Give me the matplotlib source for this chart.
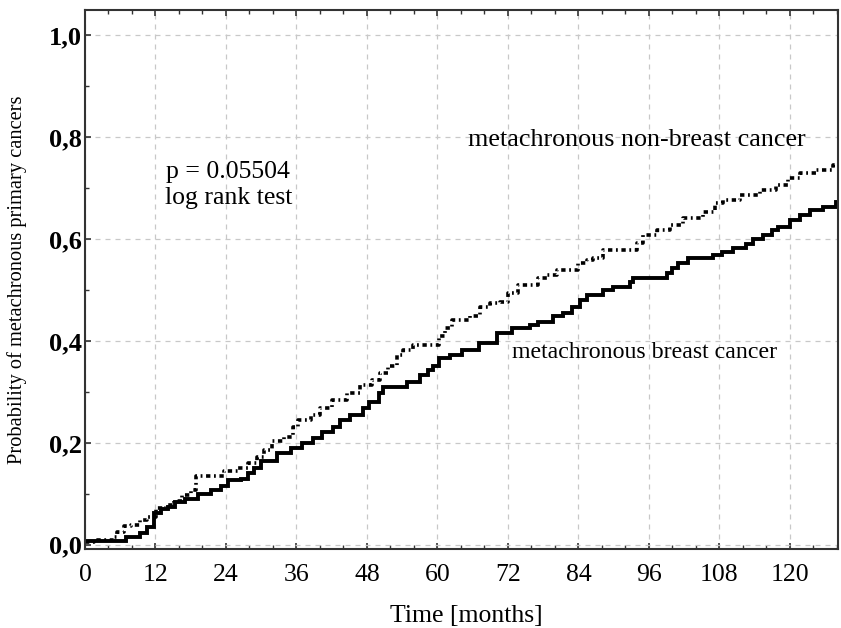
import numpy as np
import matplotlib
matplotlib.use('Agg')
import matplotlib.pyplot as plt
from matplotlib.ticker import MultipleLocator, FuncFormatter

# step times (months) and cumulative probability after each step
breast_t = [0, 7.0, 9.3, 10.6, 11.8, 13.0, 14.2, 15.3, 17.0, 19.2, 21.5, 23.2, 24.3,
            26.6, 27.7, 28.8, 29.9, 32.7, 35.0, 37.0, 38.9, 40.4, 42.3, 43.5, 45.2,
            47.4, 48.3, 50.0, 50.8, 54.8, 57.0, 58.4, 59.3, 60.2, 62.2, 64.2, 67.0,
            70.1, 72.7, 75.8, 77.2, 79.7, 81.4, 82.9, 84.3, 85.4, 88.2, 89.9, 92.8,
            93.3, 99.0, 99.9, 101.0, 102.7, 106.9, 108.4, 110.3, 112.6, 113.8, 115.4,
            116.9, 118.0, 120.0, 121.7, 123.4, 125.6, 127.9]
breast_p = [0.008, 0.016, 0.024, 0.035, 0.063, 0.07, 0.075, 0.083, 0.09, 0.10, 0.108,
            0.115, 0.128, 0.13, 0.14, 0.15, 0.165, 0.18, 0.19, 0.2, 0.21, 0.222, 0.232,
            0.245, 0.255, 0.268, 0.281, 0.298, 0.31, 0.32, 0.333, 0.343, 0.35, 0.366,
            0.372, 0.382, 0.396, 0.415, 0.425, 0.431, 0.438, 0.448, 0.455, 0.467, 0.48,
            0.49, 0.5, 0.506, 0.516, 0.523, 0.533, 0.543, 0.553, 0.563, 0.569, 0.575,
            0.582, 0.59, 0.6, 0.608, 0.618, 0.624, 0.637, 0.647, 0.657, 0.663, 0.673]

nonbreast_t = [0, 1.6, 5.0, 5.5, 6.7, 7.9, 9.3, 10.6, 12.1, 13.8, 15.2, 16.6, 18.1, 18.9,
               23.7, 26.0, 27.7, 29.3, 30.4, 31.8, 33.8, 35.5, 36.3, 38.4, 40.0, 42.0,
               44.6, 46.9, 48.9, 50.3, 51.6, 53.1, 54.2, 55.9, 60.2, 61.3, 62.5, 65.6,
               67.3, 69.0, 70.6, 72.0, 73.7, 77.1, 78.6, 80.3, 83.9, 85.4, 86.5, 88.2,
               93.9, 95.0, 97.3, 99.6, 101.8, 105.2, 107.2, 108.6, 111.5, 114.9, 117.7,
               119.7, 121.7, 124.5, 127.3]
nonbreast_p = [0.005, 0.01, 0.016, 0.026, 0.036, 0.039, 0.049, 0.055, 0.072, 0.078, 0.085,
               0.098, 0.108, 0.134, 0.144, 0.15, 0.16, 0.173, 0.186, 0.203, 0.212, 0.232,
               0.245, 0.255, 0.268, 0.284, 0.298, 0.314, 0.324, 0.337, 0.35, 0.373, 0.382,
               0.392, 0.41, 0.425, 0.441, 0.448, 0.467, 0.474, 0.477, 0.494, 0.51, 0.523,
               0.529, 0.539, 0.553, 0.559, 0.563, 0.578, 0.592, 0.608, 0.618, 0.627, 0.641,
               0.653, 0.67, 0.676, 0.686, 0.696, 0.706, 0.719, 0.729, 0.735, 0.745]

x_end = 128.2

plt.rcParams['font.family'] = ['Liberation Serif', 'DejaVu Serif']

fig = plt.figure(figsize=(8.41, 6.28), dpi=100)
ax = fig.add_axes([0.101, 0.126, 0.8955, 0.858])

# extend both curves to the right edge
ax.step(breast_t + [x_end], breast_p + [breast_p[-1]], where='post',
        color='black', lw=2.8, solid_joinstyle='miter')
ax.step(nonbreast_t + [x_end], nonbreast_p + [nonbreast_p[-1]], where='post',
        color='black', lw=2.6, linestyle=(0, (1.2, 1.0, 0.5, 1.0)))

ax.set_xlim(0, x_end)
ax.set_ylim(-0.008, 1.049)

ax.xaxis.set_major_locator(MultipleLocator(12))
ax.xaxis.set_minor_locator(MultipleLocator(4))
ax.yaxis.set_major_locator(MultipleLocator(0.2))
ax.yaxis.set_minor_locator(MultipleLocator(0.1))
ax.yaxis.set_major_formatter(FuncFormatter(lambda v, pos: f'{v:.1f}'.replace('.', ',')))

ax.tick_params(axis='both', which='both', direction='in', top=True, right=False,
               color='#333333')
ax.tick_params(axis='both', which='major', length=4, width=1.2)
ax.tick_params(axis='both', which='minor', length=3, width=1.0)
ax.tick_params(axis='x', labelsize=18.5, pad=11)
ax.tick_params(axis='y', labelsize=19, pad=2)
for lab in ax.get_yticklabels():
    lab.set_fontweight('bold')

ax.grid(True, which='major', color='#c8c8c8', lw=0.9, linestyle=(0, (4, 4)))

for side in ['left', 'bottom', 'top', 'right']:
    ax.spines[side].set_color('#333333')
    ax.spines[side].set_linewidth(1.5)

ax.set_xlabel('Time [months]', fontsize=18.5)
ax.xaxis.set_label_coords(0.506, -0.105)
ax.set_ylabel('Probability of metachronous primary cancers', fontsize=14.7)
ax.yaxis.set_label_coords(-0.077, 0.5)

ax.text(24.4, 0.706, 'p = 0.05504\nlog rank test', fontsize=18.5, ha='center', va='center',
        linespacing=1.25)
ax.text(94.0, 0.794, 'metachronous non-breast cancer', fontsize=18.8, ha='center', va='center')
ax.text(95.3, 0.378, 'metachronous breast cancer', fontsize=17.2, ha='center', va='center')

fig.savefig('out.png', dpi=100)
